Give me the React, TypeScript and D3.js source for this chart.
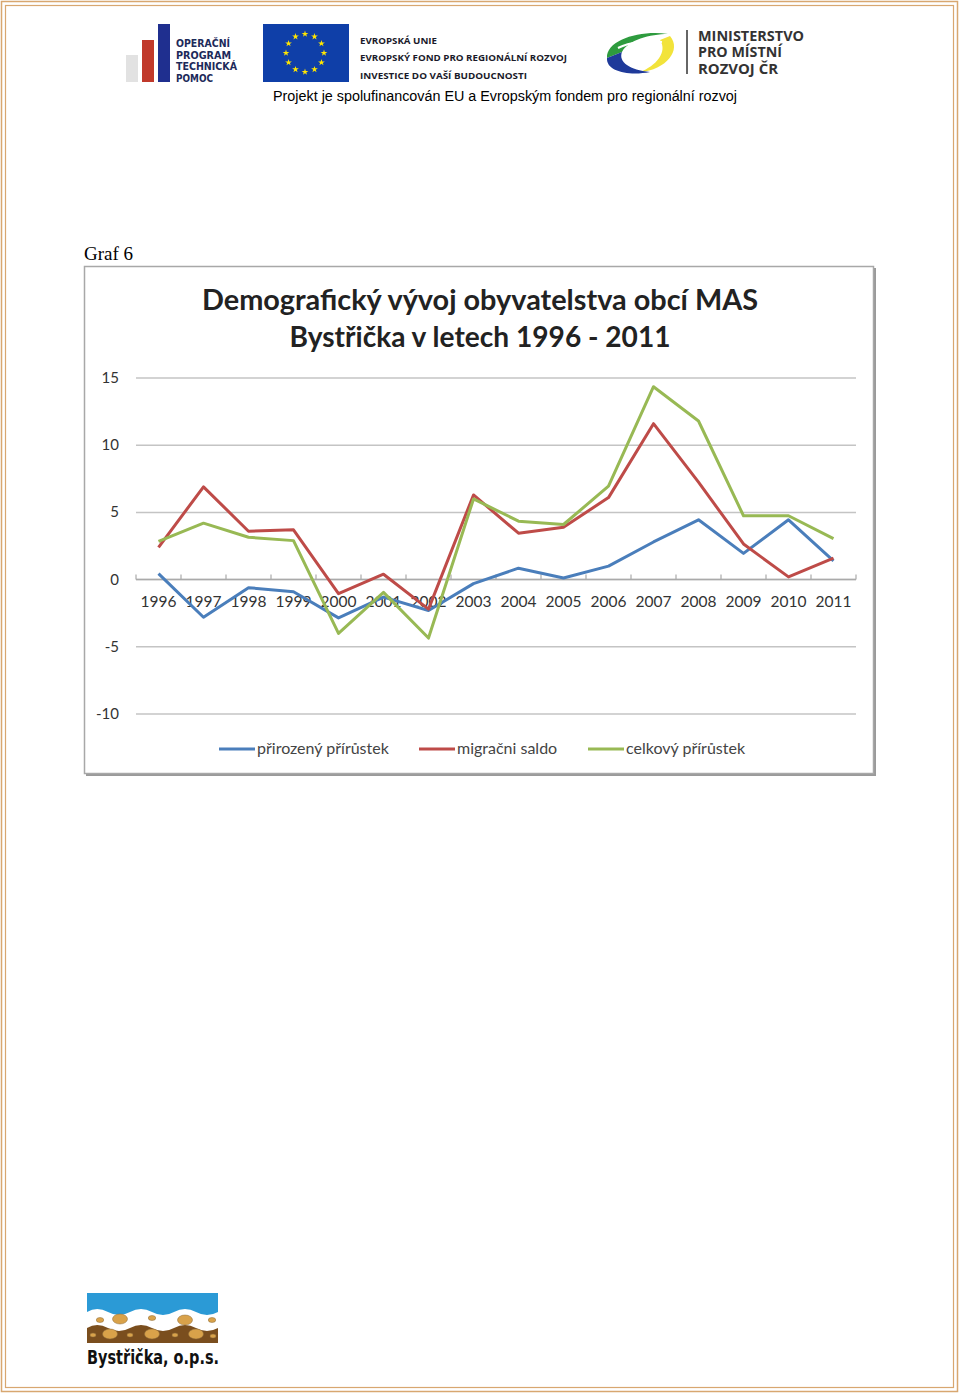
import React, { useRef, useEffect } from 'react';
import * as d3 from 'd3';

const years = ['1996', '1997', '1998', '1999', '2000', '2001', '2002', '2003', '2004', '2005', '2006', '2007', '2008', '2009', '2010', '2011'];
const prirozeny = [0.45, -2.8, -0.6, -0.9, -2.85, -1.3, -2.3, -0.3, 0.85, 0.12, 1.0, 2.8, 4.45, 1.95, 4.45, 1.4];
const migracni = [2.4, 6.9, 3.6, 3.7, -1.05, 0.4, -2.2, 6.3, 3.45, 3.9, 6.1, 11.6, 7.25, 2.65, 0.2, 1.6];
const celkovy = [2.85, 4.2, 3.15, 2.9, -4.0, -0.95, -4.35, 6.0, 4.35, 4.1, 6.95, 14.35, 11.8, 4.75, 4.75, 3.05];
const yTicks = [-10, -5, 0, 5, 10, 15];
const seriesNames = ['přirozený přírůstek', 'migračni saldo', 'celkový přírůstek'];
const seriesColors = ['#4a7ebb', '#be4b48', '#98b954'];

const App = () => {
  const ref = useRef<SVGSVGElement>(null);

  useEffect(() => {
    const svg = d3.select(ref.current);
    svg.selectAll('*').remove();

    // page border (double tan line)
    svg.append('rect').attr('x', 1.5).attr('y', 1.5).attr('width', 956).attr('height', 1390)
      .attr('fill', 'none').attr('stroke', '#d8a770').attr('stroke-width', 1.5);
    svg.append('rect').attr('x', 5.5).attr('y', 5.5).attr('width', 948).attr('height', 1382)
      .attr('fill', 'none').attr('stroke', '#d8a770').attr('stroke-width', 1.2);

    // header: OP TP logo
    const head = svg.append('g');
    head.append('rect').attr('x', 126).attr('y', 55).attr('width', 12).attr('height', 27).attr('fill', '#e2e2e2');
    head.append('rect').attr('x', 142).attr('y', 40).attr('width', 12).attr('height', 42).attr('fill', '#c0392b');
    head.append('rect').attr('x', 158).attr('y', 24).attr('width', 12).attr('height', 58).attr('fill', '#1f2f8f');
    [['OPERAČNÍ', 54], ['PROGRAM', 55], ['TECHNICKÁ', 61], ['POMOC', 37]].forEach(([t, w], i) => {
      head.append('text').attr('x', 176).attr('y', 47 + i * 11.5).text(t as string)
        .attr('font-family', 'DejaVu Sans').attr('font-weight', 'bold').attr('font-size', 10)
        .attr('textLength', w as number).attr('lengthAdjust', 'spacingAndGlyphs')
        .attr('fill', '#1d2a5a');
    });

    // EU flag
    head.append('rect').attr('x', 263).attr('y', 24).attr('width', 86).attr('height', 58).attr('fill', '#0f3fa8');
    const star = d3.symbol().type(d3.symbolStar).size(14);
    d3.range(12).forEach(i => {
      const a = (i / 12) * 2 * Math.PI;
      head.append('path').attr('d', star())
        .attr('transform', `translate(${305 + 19 * Math.sin(a)},${53 - 19 * Math.cos(a)})`)
        .attr('fill', '#ffe600');
    });
    [['EVROPSKÁ UNIE', 44, 77], ['EVROPSKÝ FOND PRO REGIONÁLNÍ ROZVOJ', 61, 207], ['INVESTICE DO VAŠÍ BUDOUCNOSTI', 79, 167]].forEach(([t, y, w]) => {
      head.append('text').attr('x', 360).attr('y', y as number).text(t as string)
        .attr('font-family', 'Open Sans').attr('font-weight', 'bold').attr('font-size', 9.5)
        .attr('textLength', w as number).attr('lengthAdjust', 'spacingAndGlyphs')
        .attr('fill', '#1a1a2a');
    });

    // MMR logo
    head.append('path').attr('d', 'M607,58 C606,40 640,30 668,34 C650,34 628,40 622,52 Z').attr('fill', '#2e9b3e');
    head.append('path').attr('d', 'M670,36 C682,50 666,70 640,72 C656,66 668,52 660,40 Z').attr('fill', '#f2e33a');
    head.append('path').attr('d', 'M607,58 C606,72 630,76 650,72 C630,70 618,62 622,52 Z').attr('fill', '#1f3a9a');
    head.append('path').attr('d', 'M618,48 C630,42 648,40 662,42').attr('stroke', '#ffffff').attr('stroke-width', 2).attr('fill', 'none');
    head.append('line').attr('x1', 687).attr('x2', 687).attr('y1', 30).attr('y2', 74).attr('stroke', '#333').attr('stroke-width', 1.5);
    [['MINISTERSTVO', 41, 106], ['PRO MÍSTNÍ', 57, 84], ['ROZVOJ ČR', 74, 80]].forEach(([t, y, w]) => {
      head.append('text').attr('x', 698).attr('y', y as number).text(t as string)
        .attr('font-family', 'Open Sans').attr('font-weight', 'bold').attr('font-size', 13.5)
        .attr('textLength', w as number).attr('lengthAdjust', 'spacingAndGlyphs')
        .attr('fill', '#333');
    });
    head.append('text').attr('x', 273).attr('y', 101)
      .text('Projekt je spolufinancován EU a Evropským fondem pro regionální rozvoj')
      .attr('font-family', 'Liberation Sans Narrow, Liberation Sans, sans-serif').attr('font-size', 15.5)
      .attr('textLength', 464).attr('lengthAdjust', 'spacingAndGlyphs').attr('fill', '#000');

    // Graf 6
    svg.append('text').attr('x', 84).attr('y', 260).text('Graf 6')
      .attr('font-family', 'Liberation Serif, Times New Roman, serif').attr('font-size', 19).attr('fill', '#000');

    // chart frame
    svg.append('rect').attr('x', 86).attr('y', 268).attr('width', 790).attr('height', 508).attr('fill', '#9a9a9a');
    svg.append('rect').attr('x', 84.5).attr('y', 266.5).attr('width', 789).attr('height', 507)
      .attr('fill', '#fff').attr('stroke', '#a8a8a8').attr('stroke-width', 1.5);

    const font = 'Lato, Open Sans, sans-serif';
    svg.append('text').attr('x', 480).attr('y', 310).attr('text-anchor', 'middle')
      .text('Demografický vývoj obyvatelstva obcí MAS')
      .attr('font-family', font).attr('font-weight', 'bold').attr('font-size', 28)
      .attr('textLength', 556).attr('lengthAdjust', 'spacingAndGlyphs').attr('fill', '#222');
    svg.append('text').attr('x', 480).attr('y', 347).attr('text-anchor', 'middle')
      .text('Bystřička v letech 1996 - 2011')
      .attr('font-family', font).attr('font-weight', 'bold').attr('font-size', 28)
      .attr('textLength', 381).attr('lengthAdjust', 'spacingAndGlyphs').attr('fill', '#222');

    const x = d3.scaleBand().domain(years).range([136, 856]);
    const y = d3.scaleLinear().domain([-10, 15]).range([714, 378]);

    // gridlines
    svg.append('g').selectAll('line').data(yTicks).enter().append('line')
      .attr('x1', 136).attr('x2', 856)
      .attr('y1', d => y(d)).attr('y2', d => y(d))
      .attr('stroke', '#c4c4c4').attr('stroke-width', 1.5);
    svg.append('g').selectAll('text').data(yTicks).enter().append('text')
      .attr('x', 119).attr('y', d => y(d) + 5).attr('text-anchor', 'end')
      .text(d => d).attr('font-family', font).attr('font-size', 15).attr('fill', '#333');

    // category axis at 0
    svg.append('line').attr('x1', 136).attr('x2', 856).attr('y1', y(0)).attr('y2', y(0))
      .attr('stroke', '#aaa').attr('stroke-width', 1.5);
    const bounds = years.map(d => x(d) as number).concat([856]);
    svg.append('g').selectAll('line').data(bounds).enter().append('line')
      .attr('x1', d => d).attr('x2', d => d).attr('y1', y(0) - 5).attr('y2', y(0))
      .attr('stroke', '#aaa').attr('stroke-width', 1.2);
    svg.append('g').selectAll('text').data(years).enter().append('text')
      .attr('x', d => (x(d) as number) + x.bandwidth() / 2).attr('y', 607)
      .attr('text-anchor', 'middle').text(d => d)
      .attr('font-family', font).attr('font-size', 15.5).attr('fill', '#333');

    const line = d3.line<number>()
      .x((_, i) => (x(years[i]) as number) + x.bandwidth() / 2)
      .y(d => y(d));
    [prirozeny, migracni, celkovy].forEach((s, i) => {
      svg.append('path').attr('d', line(s)).attr('fill', 'none')
        .attr('stroke', seriesColors[i]).attr('stroke-width', 3).attr('stroke-linejoin', 'round');
    });

    // legend
    const legX = [219, 419, 588];
    seriesNames.forEach((n, i) => {
      svg.append('line').attr('x1', legX[i]).attr('x2', legX[i] + 36).attr('y1', 749).attr('y2', 749)
        .attr('stroke', seriesColors[i]).attr('stroke-width', 3);
      svg.append('text').attr('x', legX[i] + 38).attr('y', 754).text(n)
        .attr('font-family', font).attr('font-size', 16).attr('fill', '#444');
    });

    // footer logo
    const f = svg.append('g');
    f.append('path').attr('d', 'M87,1293 H218 V1312 Q207,1318 196,1312 Q185,1306 174,1312 Q163,1318 152,1312 Q141,1306 130,1312 Q119,1318 108,1312 Q97,1306 87,1312 Z')
      .attr('fill', '#2b9ad6');
    f.append('path').attr('d', 'M87,1328 Q97,1322 108,1328 Q119,1334 130,1328 Q141,1322 152,1328 Q163,1334 174,1328 Q185,1322 196,1328 Q207,1334 218,1328 V1343 H87 Z')
      .attr('fill', '#7a4e1e');
    [[100, 1320, 2.5], [120, 1319, 5], [152, 1318, 2.5], [185, 1320, 5], [212, 1320, 2.5],
     [93, 1335, 2], [110, 1334, 5], [130, 1335, 2], [152, 1334, 5], [175, 1335, 2], [196, 1334, 5], [213, 1336, 2]].forEach(([cx, cy, r]) => {
      f.append('ellipse').attr('cx', cx).attr('cy', cy).attr('rx', r * 1.5).attr('ry', r)
        .attr('fill', '#d9a24a').attr('stroke', '#8a6a3a').attr('stroke-width', 0.5);
    });
    f.append('text').attr('x', 87).attr('y', 1364).text('Bystřička, o.p.s.')
      .attr('font-family', 'DejaVu Sans, sans-serif').attr('font-weight', 'bold').attr('font-size', 19)
      .attr('textLength', 132).attr('lengthAdjust', 'spacingAndGlyphs').attr('fill', '#111');
  }, []);

  return (
    <svg ref={ref} width={960} height={1396}
      style={{ position: 'absolute', left: 0, top: 0, background: '#fff' }} />
  );
};

export default App;
